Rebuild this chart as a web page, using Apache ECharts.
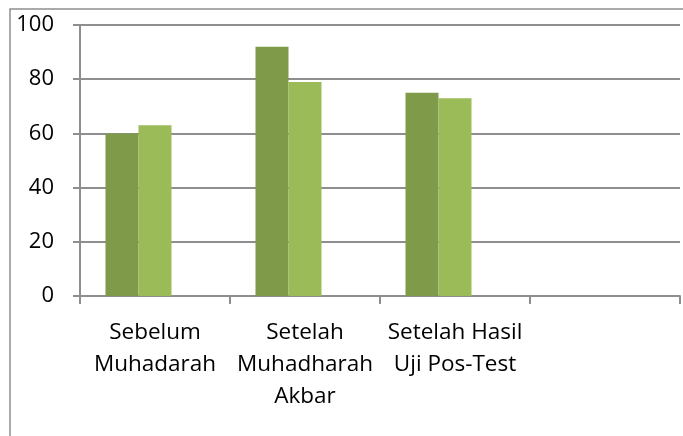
<!DOCTYPE html>
<html>
<head>
<meta charset="utf-8">
<script src="https://cdn.jsdelivr.net/npm/echarts@6/dist/echarts.min.js"></script>
<style>
  html, body { margin: 0; padding: 0; background: #fff; }
  #chart { width: 683px; height: 436px; }
</style>
</head>
<body>
<div id="chart"></div>
<script>
// chart data
const categories = ['Sebelum\nMuhadarah', 'Setelah\nMuhadharah\nAkbar', 'Setelah Hasil\nUji Pos-Test', ''];
const seriesA = [60, 92, 75, null];
const seriesB = [63, 79, 73, null];
const seriesC = [null, null, null, null]; // empty third series keeps the bar slots
const yTicks = { min: 0, max: 100, interval: 20 };

const gray = '#8e8e8e';
const font = 'Open Sans';

const chart = echarts.init(document.getElementById('chart'));

chart.setOption({
  animation: false,
  textStyle: { fontFamily: font },
  graphic: [{
    type: 'rect',
    shape: { x: 10, y: 9, width: 800, height: 600 },
    style: { fill: 'none', stroke: gray, lineWidth: 1.5 },
    silent: true
  }],
  grid: { left: 80, right: 3, top: 25, bottom: 140 },
  xAxis: {
    type: 'category',
    data: categories,
    axisLine: { lineStyle: { color: gray, width: 2 } },
    axisTick: { show: true, length: 8, lineStyle: { color: gray, width: 2 } },
    axisLabel: { color: '#000', fontSize: 22.5, lineHeight: 32, margin: 21, interval: 0 }
  },
  yAxis: {
    type: 'value',
    min: yTicks.min,
    max: yTicks.max,
    interval: yTicks.interval,
    axisLine: { show: true, lineStyle: { color: gray, width: 2 } },
    axisTick: { show: true, length: 7, lineStyle: { color: gray, width: 2 } },
    axisLabel: { color: '#000', fontSize: 22, margin: 26 },
    splitLine: { lineStyle: { color: gray, width: 2 } }
  },
  series: [
    { type: 'bar', data: seriesA, barGap: 0, barCategoryGap: '34%', itemStyle: { color: '#7f9a48' } },
    { type: 'bar', data: seriesB, barGap: 0, barCategoryGap: '34%', itemStyle: { color: '#9bbb59' } },
    { type: 'bar', data: seriesC, barGap: 0, barCategoryGap: '34%', itemStyle: { color: '#bfd494' } }
  ]
});
</script>
</body>
</html>
